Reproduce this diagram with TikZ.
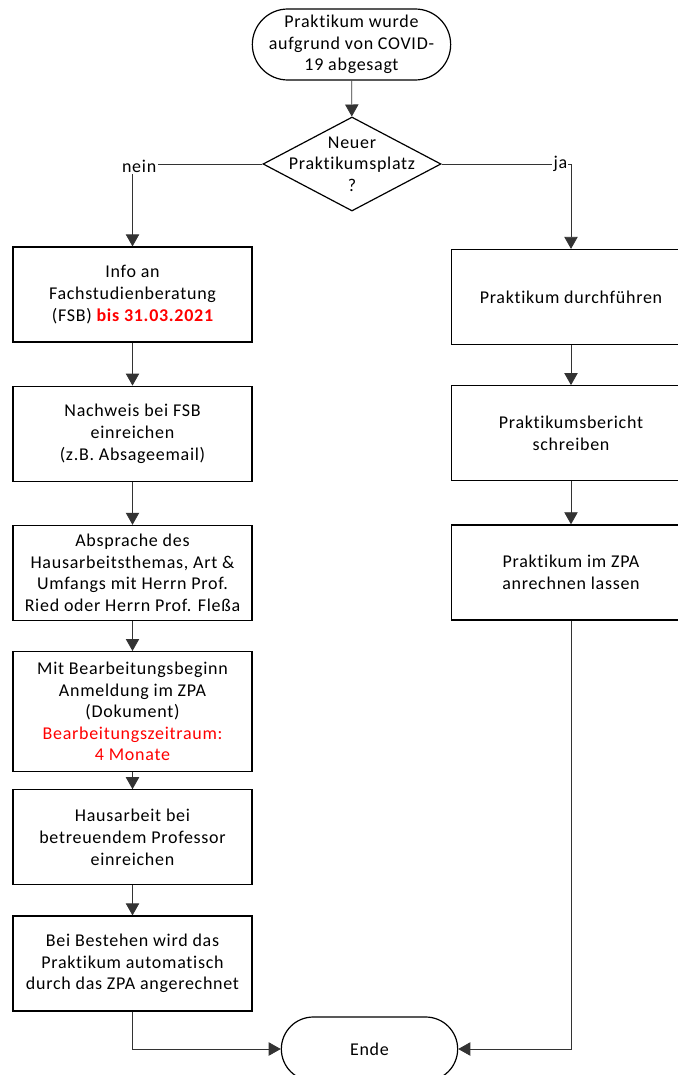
\documentclass[tikz,border=0pt]{standalone}
\usepackage{fontspec}
\setmainfont{Carlito}[LetterSpace=4, RawFeature={-liga;-calt;-clig}]
\usetikzlibrary{positioning,arrows.meta,shapes.geometric,shapes.misc}
\definecolor{rot}{RGB}{255,0,0}

\begin{document}
\begin{tikzpicture}[
  x=0.75pt, y=-0.75pt,
  font=\fontsize{13.5}{16.2}\selectfont,
  kasten/.style={draw, line width=0.9pt, rectangle, align=center, minimum width=179.25pt, minimum height=71.25pt, inner sep=2pt},
  terminal/.style={draw, line width=0.9pt, rounded rectangle, align=center, inner sep=1pt},
  raute/.style={draw, line width=0.9pt, diamond, minimum width=133.5pt, minimum height=70.5pt, inner sep=0pt},
  pfeil/.style={-{Triangle[length=9pt,width=10pt]}, line width=0.6pt, black!80},
  marke/.style={fill=white, inner sep=1pt, text=black},
  node distance=32.25pt
]
\clip (0,0) rectangle (678,1075);

% Start und Entscheidung
\node[terminal, minimum width=150.75pt, minimum height=53.25pt] (start) at (351.5,44.5) {Praktikum wurde\\aufgrund von COVID-\\19 abgesagt};
\node[raute, label={[align=center]center:Neuer\\Praktikumsplatz\\?}] (frage) at (352,164) {};

% Linke Spalte: kein neuer Platz
\node[kasten] (fsb) at (132.5,294.5) {Info an\\Fachstudienberatung\\(FSB) \textcolor{rot}{\bfseries bis 31.03.2021}};
\node[kasten, below=of fsb] (nachweis) {Nachweis bei FSB\\einreichen\\(z.B. Absageemail)};
\node[kasten, below=of nachweis] (absprache) {Absprache des\\Hausarbeitsthemas, Art \&\\Umfangs mit Herrn Prof.\\Ried oder Herrn Prof. Fleßa};
\node[kasten, minimum height=90pt, below=22.5pt of absprache] (anmeldung) {Mit Bearbeitungsbeginn\\Anmeldung im ZPA\\(Dokument)\\\textcolor{rot}{Bearbeitungszeitraum:}\\\textcolor{rot}{4 Monate}};
\node[kasten, below=12.75pt of anmeldung] (hausarbeit) {Hausarbeit bei\\betreuendem Professor\\einreichen};
\node[kasten, below=22.5pt of hausarbeit] (bestehen) {Bei Bestehen wird das\\Praktikum automatisch\\durch das ZPA angerechnet};

% Rechte Spalte: neuer Platz
\node[kasten] (durchf) at (571,297) {Praktikum durchführen};
\node[kasten, below=30pt of durchf] (bericht) {Praktikumsbericht\\schreiben};
\node[kasten, below=of bericht] (anrechnen) {Praktikum im ZPA\\anrechnen lassen};

\node[terminal, minimum width=134.25pt, minimum height=48pt] (ende) at (369.5,1049) {Ende};

\draw[pfeil] (start) -- (frage);
\draw[pfeil] (frage.west) -| node[marke, pos=0.5, xshift=5pt, yshift=-2pt] {nein} (fsb.north);
\draw[pfeil] (frage.east) -| node[marke, pos=0.5, xshift=-8pt] {ja} (durchf.north);
\draw[pfeil] (fsb) -- (nachweis);
\draw[pfeil] (nachweis) -- (absprache);
\draw[pfeil] (absprache) -- (anmeldung);
\draw[pfeil] (anmeldung) -- (hausarbeit);
\draw[pfeil] (hausarbeit) -- (bestehen);
\draw[pfeil] (durchf) -- (bericht);
\draw[pfeil] (bericht) -- (anrechnen);
\draw[pfeil] (bestehen.south) |- (ende.west);
\draw[pfeil] (anrechnen.south) |- (ende.east);
\end{tikzpicture}
\end{document}
